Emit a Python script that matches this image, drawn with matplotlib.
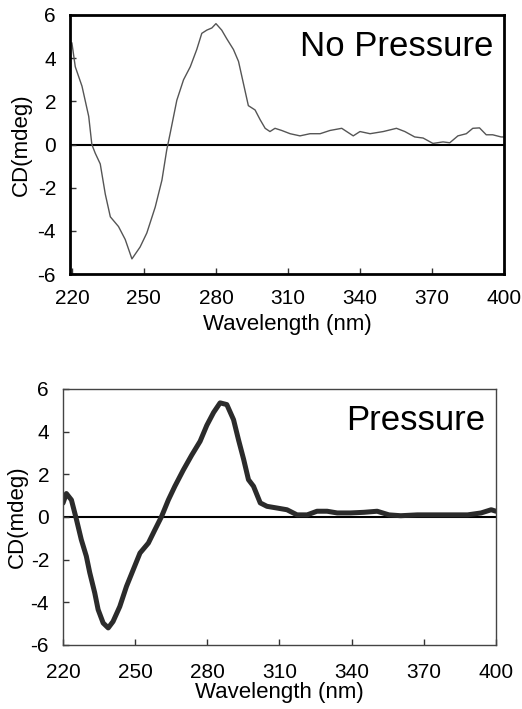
import matplotlib
matplotlib.use("Agg")
import matplotlib.pyplot as plt

plt.rcParams['font.family'] = ['Liberation Sans', 'DejaVu Sans']
plt.rcParams['axes.unicode_minus'] = False

# ---- data: No Pressure ----
wl_np = [220, 221.4, 224.2, 227, 228.3, 229.7, 231.8, 233.9, 236, 239.4, 242.2, 245,
         248.4, 251.2, 254.7, 257.5, 259.5, 260.9, 263.7, 266.5, 269.3, 272, 274.1,
         276.2, 278.3, 280, 282.4, 284.5, 287.3, 289.4, 291.4, 293.5, 296.3, 298.4,
         300.5, 302.5, 304.6, 307.4, 310.9, 315, 319.2, 323.4, 327.5, 332.4, 337.2,
         340, 344.2, 349.7, 355.2, 358.7, 362.8, 366.3, 370.4, 374.6, 377.4, 380.8,
         384.3, 387, 389.8, 392.6, 395.3, 398.8, 400]
cd_np = [4.7, 3.6, 2.7, 1.3, 0.0, -0.4, -0.9, -2.3, -3.35, -3.8, -4.4, -5.3,
         -4.75, -4.1, -2.9, -1.65, -0.25, 0.5, 2.05, 3.0, 3.6, 4.4, 5.15,
         5.3, 5.4, 5.6, 5.3, 4.9, 4.4, 3.85, 2.85, 1.8, 1.6, 1.15,
         0.75, 0.6, 0.75, 0.65, 0.5, 0.4, 0.5, 0.5, 0.65, 0.75, 0.4,
         0.6, 0.5, 0.6, 0.75, 0.6, 0.35, 0.3, 0.05, 0.12, 0.08, 0.4,
         0.5, 0.75, 0.77, 0.45, 0.45, 0.35, 0.35]

# ---- data: Pressure ----
wl_p = [220, 221.4, 223.5, 225.6, 227.6, 229.7, 231.1, 233.2, 234.6, 236.7, 238.8,
        240.8, 243.6, 246.4, 249.2, 252, 255.5, 258.2, 261, 263.8, 266.5, 270,
        273.5, 277, 279.8, 282.6, 285.3, 288.1, 290.9, 293, 295.1, 297.1, 299.2,
        302, 304.8, 309, 313.1, 317.3, 321.5, 325.6, 329.8, 334, 339.5, 345.1,
        350.6, 355.5, 360.4, 367.3, 374.3, 381.3, 388.2, 393.8, 398, 400]
cd_p = [0.65, 1.1, 0.8, -0.12, -1.06, -1.84, -2.6, -3.56, -4.34, -4.97, -5.2,
        -4.9, -4.2, -3.25, -2.47, -1.69, -1.22, -0.6, 0.03, 0.8, 1.44, 2.2,
        2.9, 3.55, 4.3, 4.9, 5.35, 5.27, 4.56, 3.6, 2.7, 1.75, 1.44,
        0.66, 0.5, 0.42, 0.34, 0.1, 0.1, 0.27, 0.27, 0.19, 0.19, 0.22,
        0.27, 0.1, 0.06, 0.1, 0.1, 0.1, 0.1, 0.19, 0.34, 0.27]

xticks = [220, 250, 280, 310, 340, 370, 400]
yticks = [-6, -4, -2, 0, 2, 4, 6]
xlabel = "Wavelength (nm)"
ylabel = "CD(mdeg)"

W, H = 522, 709
fig = plt.figure(figsize=(W / 100, H / 100), dpi=100)


def frac(l, r, t, b):
    return [l / W, 1 - b / H, (r - l) / W, (b - t) / H]


def setup(ax, spine_lw, spine_color, xpad, title, xlim):
    ax.set_xlim(*xlim)
    ax.set_ylim(-6, 6)
    ax.set_xticks(xticks)
    ax.set_yticks(yticks)
    for s in ax.spines.values():
        s.set_linewidth(spine_lw)
        s.set_color(spine_color)
    ax.tick_params(axis='both', direction='in', length=4, width=1, labelsize=15,
                   color='#333333')
    ax.tick_params(axis='x', pad=xpad)
    ax.tick_params(axis='y', pad=10)
    ax.axhline(0, color='black', lw=1.5, zorder=1)
    ax.text(0.975, 0.84, title, transform=ax.transAxes, ha='right', va='baseline',
            fontsize=25)
    ax.set_xlabel(xlabel, fontsize=16)
    ax.set_ylabel(ylabel, fontsize=16)


ax1 = fig.add_axes(frac(70, 504, 15, 274))
ax1.plot(wl_np, cd_np, color='#555555', lw=1.0, zorder=2)
setup(ax1, 2.0, 'black', 11, "No Pressure", (219.2, 400))
ax1.xaxis.set_label_coords(0.5, -0.155)
ax1.yaxis.set_label_coords(-0.088, 0.5)

ax2 = fig.add_axes(frac(63, 496, 389, 645))
ax2.plot(wl_p, cd_p, color='#2b2b2b', lw=3.6, zorder=2, solid_joinstyle='round',
         solid_capstyle='round')
setup(ax2, 1.0, '#444444', 13, "Pressure", (220, 400))
ax2.xaxis.set_label_coords(0.5, -0.145)
ax2.yaxis.set_label_coords(-0.08, 0.5)

fig.savefig("out.png", dpi=100, facecolor='white')
